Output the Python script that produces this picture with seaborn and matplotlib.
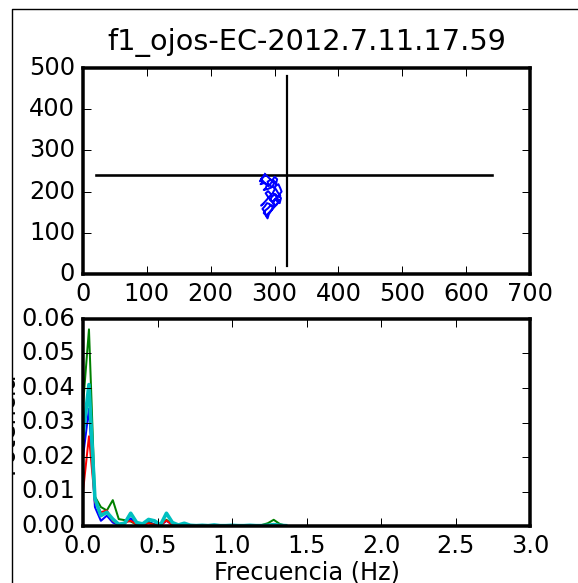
import matplotlib
matplotlib.use("Agg")
import matplotlib.pyplot as plt
import seaborn as sns
from matplotlib.lines import Line2D
from matplotlib.patches import Rectangle

# ---------------- data ----------------
title = "f1_ojos-EC-2012.7.11.17.59"

gaze_x = [285, 283, 279, 281, 278, 284, 288, 286, 283, 289, 295, 293, 298, 301,
          303, 306, 309, 311, 307, 310, 308, 303, 301, 298, 300, 296, 292, 288,
          285, 281, 284, 287, 289, 291, 294, 298, 303, 306, 302, 297, 300, 304,
          300, 296, 292, 288, 284, 280, 277, 281, 286, 291, 289, 294, 299, 297,
          302, 305, 309, 306, 301, 296, 293, 297, 303, 308, 304, 299, 294, 290,
          286, 283, 287, 292, 296, 300, 297, 293, 289, 286, 290, 295, 291, 287,
          283, 279, 282]
gaze_y = [243, 236, 230, 222, 218, 221, 216, 208, 204, 206, 210, 218, 228, 222,
          215, 218, 208, 200, 192, 184, 172, 178, 182, 175, 168, 163, 170, 172,
          165, 158, 152, 140, 135, 145, 152, 160, 168, 175, 190, 196, 205, 230,
          236, 226, 232, 238, 240, 233, 225, 227, 219, 213, 224, 229, 221, 212,
          206, 198, 190, 187, 194, 188, 180, 176, 184, 178, 170, 164, 167, 160,
          155, 148, 142, 150, 157, 165, 173, 181, 189, 196, 201, 193, 186, 179,
          172, 166, 170]

cross_h_x = [20, 640]
cross_h_y = [240, 240]
cross_v_x = [320, 320]
cross_v_y = [20, 480]

freq = [0.00, 0.04, 0.08, 0.12, 0.16, 0.20, 0.24, 0.28, 0.32, 0.36, 0.40, 0.44,
        0.48, 0.52, 0.56, 0.60, 0.64, 0.68, 0.72, 0.76, 0.80, 0.84, 0.88, 0.92,
        0.96, 1.00, 1.04, 1.08, 1.12, 1.16, 1.20, 1.24, 1.28, 1.32, 1.36]
pot_blue = [0.020, 0.034, 0.0055, 0.0015, 0.0030, 0.0010, 0.0003, 0.0008, 0.0022,
            0.0005, 0.0003, 0.0012, 0.0005, 0.0002, 0.0015, 0.0004, 0.0002, 0.0004,
            0.0002, 0.0001, 0.0002, 0.0001, 0.0001, 0.0002, 0.0001, 0.0001, 0.0001,
            0.0002, 0.0001, 0.0001, 0.0001, 0.0002, 0.0003, 0.0001, 0.0001]
pot_green = [0.035, 0.057, 0.0085, 0.0055, 0.0045, 0.0075, 0.0020, 0.0017, 0.0013,
             0.0004, 0.0005, 0.0010, 0.0004, 0.0002, 0.0018, 0.0004, 0.0003, 0.0006,
             0.0002, 0.0001, 0.0003, 0.0001, 0.0001, 0.0002, 0.0001, 0.0001, 0.0002,
             0.0001, 0.0001, 0.0002, 0.0003, 0.0008, 0.0018, 0.0006, 0.0001]
pot_red = [0.010, 0.026, 0.0070, 0.0040, 0.0045, 0.0015, 0.0005, 0.0010, 0.0015,
           0.0005, 0.0003, 0.0008, 0.0003, 0.0002, 0.0016, 0.0003, 0.0002, 0.0003,
           0.0001, 0.0001, 0.0002, 0.0001, 0.0001, 0.0001, 0.0001, 0.0001, 0.0001,
           0.0001, 0.0001, 0.0001, 0.0001, 0.0001, 0.0002, 0.0001, 0.0001]
pot_cyan = [0.026, 0.041, 0.0080, 0.0030, 0.0040, 0.0020, 0.0005, 0.0008, 0.0037,
            0.0010, 0.0006, 0.0019, 0.0015, 0.0003, 0.0037, 0.0010, 0.0003, 0.0008,
            0.0002, 0.0001, 0.0002, 0.0001, 0.0003, 0.0001, 0.0001, 0.0002, 0.0001,
            0.0001, 0.0002, 0.0001, 0.0001, 0.0002, 0.0004, 0.0002, 0.0001]

top_xticks = [0, 100, 200, 300, 400, 500, 600, 700]
top_yticks = [0, 100, 200, 300, 400, 500]
bot_xticks = [0.0, 0.5, 1.0, 1.5, 2.0, 2.5, 3.0]
bot_yticks = [0.00, 0.01, 0.02, 0.03, 0.04, 0.05, 0.06]

# ---------------- style ----------------
plt.style.use("classic")
plt.rcParams.update({
    "figure.facecolor": "white",
    "figure.edgecolor": "white",
    "savefig.facecolor": "white",
    "savefig.edgecolor": "white",
    "font.family": ["DejaVu Sans"],
    "font.size": 12,
    "axes.linewidth": 1.75,
    "xtick.major.size": 4,
    "ytick.major.size": 4,
    "xtick.major.width": 0.5,
    "ytick.major.width": 0.5,
    "xtick.direction": "in",
    "ytick.direction": "in",
    "xtick.top": True,
    "ytick.right": True,
    "axes.titlesize": 14.4,
})

DPI = 144
W, H = 578, 583
fig = plt.figure(figsize=(W / DPI, H / DPI), dpi=DPI)
fig.patch.set_linewidth(0)


def rect(l, t, r, b):
    return [l / W, 1 - b / H, (r - l) / W, (b - t) / H]


ax1 = fig.add_axes(rect(83, 68, 530, 274))
ax2 = fig.add_axes(rect(83, 319, 530, 526))

# ---- top: gaze trajectory ----
sns.lineplot(x=cross_h_x, y=cross_h_y, color="k", lw=1.3, ax=ax1)
sns.lineplot(x=cross_v_x, y=cross_v_y, color="k", lw=1.1, ax=ax1,
             sort=False, estimator=None)
sns.lineplot(x=gaze_x, y=gaze_y, color="b", lw=1.0, ax=ax1,
             sort=False, estimator=None)
ax1.set_xlim(0, 700)
ax1.set_ylim(0, 500)
ax1.set_xticks(top_xticks)
ax1.set_yticks(top_yticks)
ax1.set_xlabel("")
ax1.set_ylabel("")
ax1.set_title(title, pad=9)

# ---- bottom: spectra ----
for vals, col, lw in [(pot_blue, "b", 1.0), (pot_green, "g", 1.0),
                      (pot_red, "r", 1.0), (pot_cyan, "c", 1.8)]:
    sns.lineplot(x=freq, y=vals, color=col, lw=lw, ax=ax2,
                 sort=False, estimator=None)
ax2.set_xlim(0, 3)
ax2.set_ylim(0, 0.06)
ax2.set_xticks(bot_xticks)
ax2.set_yticks(bot_yticks)
ax2.set_xticklabels([f"{v:.1f}" for v in bot_xticks])
ax2.set_yticklabels([f"{v:.2f}" for v in bot_yticks])
ax2.set_xlabel("Frecuencia (Hz)")
ax2.xaxis.set_label_coords(0.5, -0.165)
ax2.set_ylabel("Potencia")
ax2.yaxis.set_label_coords(-0.143, 0.5)

# frame corner and left clipping as in the reference crop
fig.add_artist(Rectangle((0, 0), 11.5 / W, 1, transform=fig.transFigure,
                         facecolor="white", edgecolor="none", zorder=5))
fig.add_artist(Line2D([12 / W, 12 / W, 1], [0, 1 - 8.5 / H, 1 - 8.5 / H],
                      transform=fig.transFigure, color="k", lw=0.7, zorder=6))

fig.savefig("out.png", dpi=DPI)
